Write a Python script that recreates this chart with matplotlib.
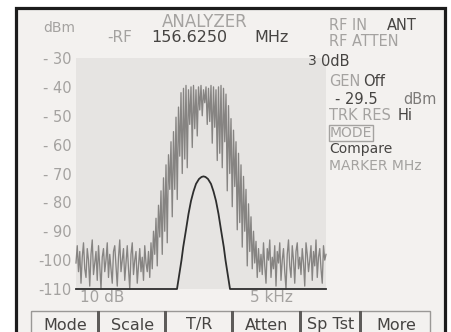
import numpy as np
import matplotlib
matplotlib.use("Agg")
import matplotlib.pyplot as plt
from matplotlib.patches import Rectangle

# ---------------- data ----------------
y_ticks = [-30, -40, -50, -60, -70, -80, -90, -100, -110]
y_tick_labels = ["- 30", "- 40", "- 50", "- 60", "- 70", "- 80", "- 90", "-100", "-110"]

# gray (live) trace, sampled every 0.25 kHz from -25 kHz to +25 kHz
gray_left = [-101, -95, -104, -97, -108, -99, -94, -103, -106, -96, -100, -109, -98, -93,
             -105, -101, -97, -107, -95, -102, -110, -99, -96, -104, -100, -94, -106, -98,
             -103, -108, -97, -95, -102, -109, -99, -93, -104, -100, -96, -107, -101, -95,
             -103, -110, -98, -94, -105, -100, -97, -108, -102, -96, -104, -99, -107, -95, -101]
gray_mid = [-104, -97, -106, -94, -103, -90, -98, -85.5, -102, -81, -92, -76, -98, -71.5,
            -90, -67, -94, -63.5, -75.5, -59, -85, -55.5, -75.5, -50.5, -79, -47, -64, -42,
            -70, -40.5, -65, -39.5, -68, -41, -53, -40, -61, -39.5, -54.5, -41, -57, -40,
            -48, -39.5, -50, -41, -45.5, -40, -53, -40.5, -52, -39.5, -59.5, -40, -54, -41,
            -65.5, -40, -63, -39.5, -68, -40.5, -59, -42.5, -76, -46.5, -70, -51, -81.5, -55,
            -74.5, -59, -89.5, -63, -87, -67, -95.5, -71, -90, -75.5, -102, -80.5, -97, -85,
            -103, -90, -101, -93.5, -106, -96, -104]
gray_right = [-98, -105, -94, -102, -108, -96, -100, -93, -106, -99, -103, -95, -109, -97,
              -101, -94, -107, -100, -96, -104, -110, -98, -93, -102, -106, -95, -100, -108,
              -97, -94, -103, -99, -105, -96, -101, -109, -94, -98, -104, -100, -95, -107,
              -97, -102, -93, -106, -99, -96, -103, -108, -95, -100, -98]
gray_db = gray_left + gray_mid + gray_right
gray_freq = np.linspace(-25, 25, len(gray_db))

# black (stored / compare) trace
black_freq = [-25, -4.8, -4.35, -3.9, -3.56, -3.0, -2.5, -2.0, -1.5, -1.0, -0.4, 0.1, 0.5,
              0.9, 1.4, 2.0, 2.5, 3.0, 3.5, 4.0, 4.56, 4.9, 5.35, 5.8, 25]
black_db = [-110, -110, -105, -100, -95.5, -89.5, -84, -79.5, -76.2, -73.6, -71.9, -71.2, -71,
            -71.2, -71.9, -73.6, -76.2, -79.5, -84, -89.5, -95.5, -100, -105, -110, -110]

buttons = ["Mode", "Scale", "T/R", "Atten", "Sp Tst", "More"]

# ---------------- style ----------------
W, H = 451, 332
LIGHT = "#a4a2a0"
DARK = "#464442"
BG = "#f3f1ef"
PLOT_BG = "#e6e4e2"

fig = plt.figure(figsize=(W / 100, H / 100), dpi=100)
fig.patch.set_facecolor("white")

# background / frame layer (pixel coordinates)
bg = fig.add_axes([0, 0, 1, 1], zorder=0)
bg.set_xlim(0, W)
bg.set_ylim(H, 0)
bg.axis("off")
bg.add_patch(Rectangle((16, 8), 429, 340, facecolor=BG, edgecolor="#1c1c1c", lw=2.3))

# main spectrum axes
L, R, T, B = 76, 326, 58, 289
ax = fig.add_axes([L / W, (H - B) / H, (R - L) / W, (B - T) / H], zorder=1)
ax.set_facecolor(PLOT_BG)
for s in ax.spines.values():
    s.set_visible(False)
ax.set_xlim(-25, 25)
ax.set_ylim(-110, -30)
ax.plot(gray_freq, gray_db, color="#868482", lw=0.95, clip_on=False)
ax.plot(black_freq, black_db, color="#2e2e2e", lw=1.3, clip_on=False)
ax.set_xticks([])
ax.set_yticks(y_ticks)
ax.set_yticklabels(y_tick_labels, color=LIGHT, fontsize=10.5)
ax.tick_params(axis="y", length=0, pad=3)

# text layer (pixel coordinates)
tx = fig.add_axes([0, 0, 1, 1], zorder=3)
tx.set_xlim(0, W)
tx.set_ylim(H, 0)
tx.axis("off")
tx.patch.set_alpha(0)

def t(x, y, s, c=LIGHT, size=10.5, ha="left", **kw):
    tx.text(x, y, s, color=c, fontsize=size, ha=ha, va="center", **kw)

t(59, 28, "dBm", size=10, ha="center")
t(205, 22, "ANALYZER", size=12, ha="center")
t(107, 38, "-RF", size=11)
t(151, 38, "156.6250", c=DARK, size=11.5)
t(254, 38, "MHz", c=DARK, size=11.5)

X0 = 329
t(X0, 26, "RF IN", size=10.5)
t(387, 26, "ANT", c=DARK, size=10.5)
t(X0, 42, "RF ATTEN", size=10.5)
t(308, 61, "3", c=DARK, size=10)
t(321, 61, "0dB", c=DARK, size=10.5)
t(X0, 82, "GEN", size=10.5)
t(363, 82, "Off", c=DARK, size=10.5)
t(335, 99, "- 29.5", c=DARK, size=10.5)
t(403, 99, "dBm", c="#7c7a78", size=10.5)
t(X0, 116, "TRK RES", size=10.5)
t(398, 116, "Hi", c=DARK, size=10.5)
t(X0 + 1, 133, "MODE", size=10,
  bbox=dict(boxstyle="square,pad=0.08", facecolor="none", edgecolor=LIGHT, lw=1.0))
t(X0, 149, "Compare", c=DARK, size=10)
t(X0, 166, "MARKER MHz", size=10)

t(80, 298, "10 dB", size=11)
t(250, 298, "5 kHz", size=11)

# soft-key button row
edges = [31, 98, 165, 232, 300, 360, 430]
top = 311
for i, lab in enumerate(buttons):
    x0, x1 = edges[i], edges[i + 1]
    tx.add_patch(Rectangle((x0, top), x1 - x0, 30, facecolor="none",
                           edgecolor="#9a9896", lw=1.0))
    t((x0 + x1) / 2 + 1, 325, lab, c=DARK, size=11.5, ha="center")
for xe in edges[1:-1]:
    tx.add_patch(Rectangle((xe - 1.5, top), 3.5, 30, facecolor="#5e5c5a",
                           edgecolor="none"))

fig.savefig("out.png", dpi=100)
